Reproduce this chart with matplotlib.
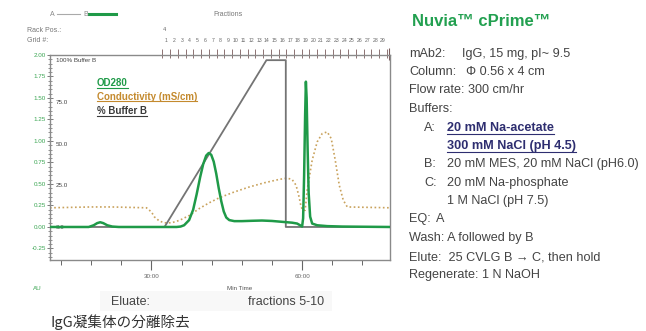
import matplotlib
matplotlib.use("Agg")
import matplotlib.pyplot as plt
from matplotlib.lines import Line2D
from matplotlib.patches import Rectangle
from matplotlib.ticker import MultipleLocator
import matplotlib.transforms as mtransforms

plt.rcParams["font.family"] = ["Liberation Sans", "DejaVu Sans"]

# ---- data (time in min) ----
od_time = [9.8, 17.5, 18.5, 19.2, 19.8, 20.4, 21.2, 22.2, 23.5, 35.0, 35.8,
           36.5, 37.5, 38.3, 39.0, 39.7, 40.3, 40.9, 41.4, 41.9, 42.4, 42.9,
           43.4, 43.9, 44.4, 44.9, 45.5, 46.5, 48.0, 50.0, 52.0, 54.0, 56.0,
           58.0, 59.0, 59.6, 60.0, 60.2, 60.4, 60.6, 60.75, 60.9, 61.1, 61.3,
           61.6, 62.0, 63.0, 65.0, 68.0, 77.5]
od280 = [0.0, 0.0, 0.02, 0.045, 0.055, 0.045, 0.02, 0.005, 0.0, 0.0, 0.005,
         0.02, 0.08, 0.2, 0.38, 0.58, 0.73, 0.83, 0.86, 0.84, 0.76, 0.62,
         0.45, 0.3, 0.18, 0.11, 0.08, 0.068, 0.068, 0.072, 0.075, 0.07, 0.06,
         0.05, 0.04, 0.02, 0.005, 0.1, 0.6, 1.3, 1.69, 1.5, 0.9, 0.4,
         0.12, 0.04, 0.02, 0.01, 0.005, 0.0]

cond_time = [9.8, 18.0, 22.0, 29.0, 30.0, 30.6, 31.6, 32.6, 34.0, 35.6, 37.6,
             39.5, 41.5, 43.5, 46.5, 49.5, 52.5, 55.4, 57.0, 58.0, 58.8, 59.4,
             59.8, 60.2, 60.6, 61.0, 62.0, 63.0, 64.0, 65.0, 65.8, 66.6, 67.4,
             68.2, 69.0, 77.5]
conductivity = [11.5, 12.0, 12.0, 11.5, 9.0, 6.0, 3.5, 2.5, 2.5, 4.0, 7.0,
                11.0, 14.5, 17.5, 21.0, 24.0, 26.5, 28.5, 29.3, 28.5, 25.0, 18.0,
                12.0, 10.0, 10.0, 22.0, 40.0, 51.0, 56.0, 57.0, 53.0, 40.0, 25.0,
                16.0, 12.0, 11.5]

bufb_time = [9.8, 32.6, 52.9, 56.75, 56.75, 77.5]
buffer_b = [0, 0, 100, 100, 0, 0]

frac_numbers = list(range(1, 30))
frac_start = 32.2
frac_width = 1.54

od_ticks = [-0.25, 0.0, 0.25, 0.5, 0.75, 1.0, 1.25, 1.5, 1.75, 2.0]
cond_ticks = [0, 25, 50, 75, 100]
cond_labels = ["0.0", "25.0", "50.0", "75.0", "100% Buffer B"]
time_major = [30, 60]
time_labels = ["30:00", "60:00"]

info_lines = [
    ("mAb2:", "IgG, 15 mg, pI~ 9.5"),
    ("Column:", "\u03a6 0.56 x 4 cm"),
    ("Flow rate: 300 cm/hr", None),
    ("Buffers:", None),
    ("A:", "20 mM Na-acetate"),
    ("", "300 mM NaCl (pH 4.5)"),
    ("B:", "20 mM MES, 20 mM NaCl (pH6.0)"),
    ("C:", "20 mM Na-phosphate"),
    ("", "1 M NaCl (pH 7.5)"),
    ("EQ:", "A"),
    ("Wash: A followed by B", None),
    ("Elute:  25 CVLG B \u2192 C, then hold", None),
    ("Regenerate: 1 N NaOH", None),
]

GREEN = "#1f9a48"
TAN = "#c9a25c"
GREY = "#747474"
NAVY = "#2e2e70"

W, H = 646, 331
fig = plt.figure(figsize=(W / 100, H / 100), dpi=100)
fig.patch.set_facecolor("white")


def px(x, y):
    return x / W, 1 - y / H


ax = fig.add_axes([50 / W, (H - 260) / H, 340 / W, 205 / H])
ax2 = ax.twinx()
ax.set_zorder(ax2.get_zorder() + 1)
ax.patch.set_visible(False)

ax.plot(od_time, od280, color=GREEN, lw=1.8, zorder=3)
ax2.plot(cond_time, conductivity, color=TAN, lw=1.2, ls=(0, (1, 1.5)))
ax2.plot(bufb_time, buffer_b, color=GREY, lw=1.3)

ax.set_xlim(9.8, 77.5)
ax.set_ylim(-0.384, 2.0)
ax2.set_ylim(-19.8, 103.1)

for s in ax.spines.values():
    s.set_color("#8a8a8a")
    s.set_linewidth(1.0)
for s in ax2.spines.values():
    s.set_visible(False)

ax.set_yticks(od_ticks, [f"{v:.2f}" for v in od_ticks])
ax.yaxis.set_minor_locator(MultipleLocator(0.05))
ax.tick_params(axis="y", which="major", direction="inout", length=4, width=0.6,
               colors="#666666", labelcolor="#3aa552", labelsize=4.5, pad=1)
ax.tick_params(axis="y", which="minor", direction="inout", length=2.5, width=0.5,
               colors="#666666")

ax.set_xticks(time_major, time_labels)
ax.xaxis.set_minor_locator(MultipleLocator(6))
ax.tick_params(axis="x", which="major", direction="out", length=7, width=0.8,
               colors="#666666", labelsize=4.5, pad=3)
ax.tick_params(axis="x", which="minor", direction="out", length=3.5, width=0.7,
               colors="#666666")

ax2.yaxis.tick_left()
ax2.set_yticks(cond_ticks, cond_labels, ha="left")
ax2.tick_params(axis="y", length=0, labelleft=True, labelright=False,
                labelsize=4.5, labelcolor="#444444", pad=-4)

# fraction marks along the top edge
trans = mtransforms.blended_transform_factory(ax.transData, ax.transAxes)
edges = [frac_start + frac_width * i for i in range(len(frac_numbers) + 1)]
ax.vlines(edges, 0.985, 1.03, transform=trans, colors="#7a5c5c", lw=0.6,
          clip_on=False)
ax.vlines([77.3], 0.975, 1.035, transform=trans, colors="#7a5c5c", lw=0.8,
          clip_on=False)
for n, e in zip(frac_numbers, edges):
    ax.text(e + frac_width * 0.5, 1.07, str(n), transform=trans, fontsize=3.7,
            color="#666666", ha="center", va="center", clip_on=False)
ax.text(frac_start + frac_width * 0.3, 1.125, "4", transform=trans,
        fontsize=4, color="#666666", ha="center", va="center")

# header above chart
fig.text(*px(50, 14), "A", fontsize=5, color="#888888", va="center")
fig.add_artist(Line2D([57 / W, 80 / W], [1 - 14 / H] * 2, color="#aaaaaa", lw=0.8))
fig.text(*px(83, 14), "B", fontsize=5, color="#888888", va="center")
fig.add_artist(Line2D([89 / W, 116 / W], [1 - 14 / H] * 2, color=GREEN, lw=2.2))
fig.text(*px(228, 14), "Fractions", fontsize=5, color="#777777", va="center",
         ha="center")
fig.text(*px(27, 30), "Rack Pos.:", fontsize=5, color="#777777", va="center")
fig.text(*px(27, 41), "Grid #:", fontsize=5, color="#777777", va="center")

# in-plot legend
legend_items = [("OD280", GREEN), ("Conductivity (mS/cm)", "#c48a2e"),
                ("% Buffer B", "#3a3a3a")]
leg_texts = []
for i, (lab, c) in enumerate(legend_items):
    t = fig.text(*px(97, 86 + 14 * i), lab, fontsize=7, fontweight="bold",
                 color=c, va="baseline")
    leg_texts.append((t, c))

# bottom labels
fig.text(*px(33, 288), "AU", fontsize=4.5, color="#3aa552", va="center")
fig.text(*px(240, 288), "Min Time", fontsize=4.5, color="#555555",
         va="center", ha="center")
fig.add_artist(Rectangle(px(100, 311), 232 / W, 20 / H, transform=fig.transFigure,
                         facecolor="#f8f8f8", edgecolor="none", zorder=0))
fig.text(*px(130, 302), "Eluate:", fontsize=9, color="#444444", va="center",
         ha="center")
fig.text(*px(286, 302), "fractions 5-10", fontsize=9, color="#444444",
         va="center", ha="center")
fig.text(*px(50, 322), "IgG凝集体の分離除去", fontsize=10.5, color="#333333",
         va="center", family=["Noto Sans CJK JP", "DejaVu Sans"])

# right-hand method panel
fig.text(*px(412, 21), "Nuvia\u2122 cPrime\u2122", fontsize=12,
         fontweight="bold", color="#22a050", va="center")
line_y = [54, 72, 90, 109, 128, 146, 164, 183, 201, 219, 238, 257, 275]
value_x = {"mAb2:": 462, "Column:": 466, "A:": 447, "B:": 447, "C:": 447,
           "": 447, "EQ:": 436}
label_x = {"A:": 424, "B:": 424, "C:": 424}
info_texts = []
for i, ((lab, val), y) in enumerate(zip(info_lines, line_y)):
    if lab:
        fig.text(*px(label_x.get(lab, 409), y), lab, fontsize=9.1,
                 color="#444444", va="center")
    if val:
        bold = i in (4, 5)
        t = fig.text(*px(value_x[lab], y), val, fontsize=9.1,
                     color=NAVY if bold else "#444444",
                     fontweight="bold" if bold else "normal", va="center")
        if bold:
            info_texts.append((t, NAVY))

fig.canvas.draw()
r = fig.canvas.get_renderer()
for t, c in leg_texts + info_texts:
    bb = t.get_window_extent(r)
    fig.add_artist(Line2D([bb.x0 / W, bb.x1 / W], [(bb.y0 + 0.5) / H] * 2,
                          color=c, lw=0.8))

fig.savefig("out.png", dpi=100, facecolor="white")
